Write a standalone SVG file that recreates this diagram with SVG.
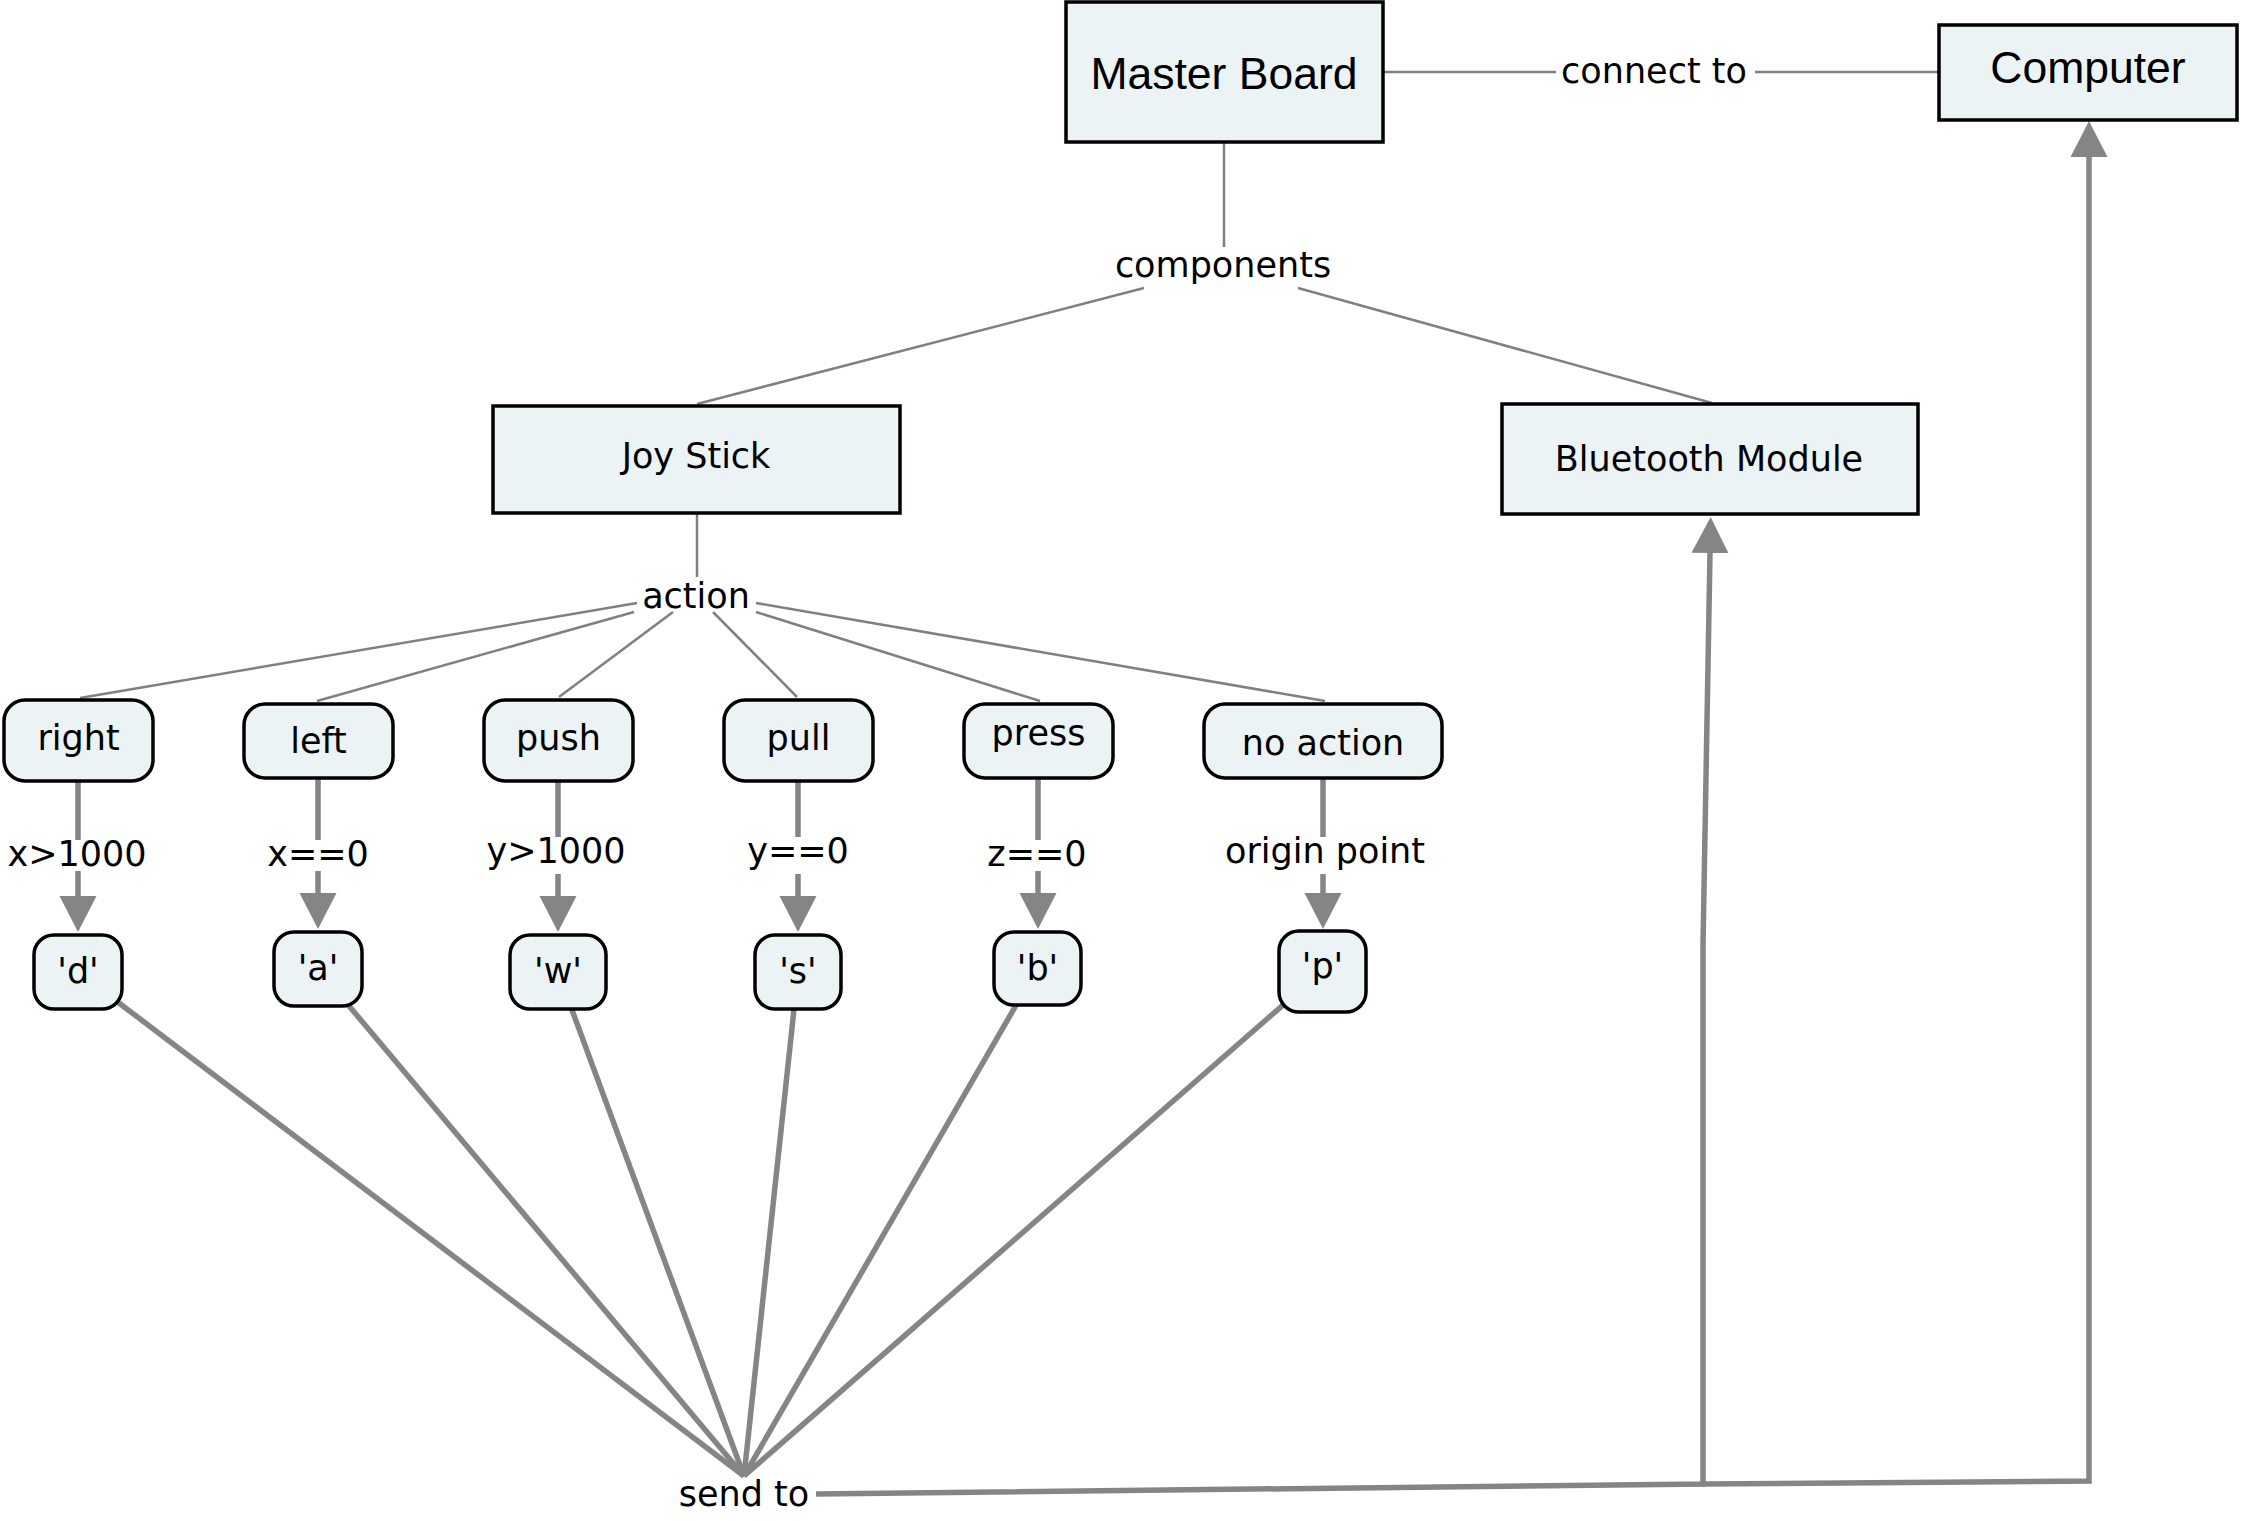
<svg xmlns="http://www.w3.org/2000/svg" width="2244" height="1521" viewBox="0 0 2244 1521">
<style>
.box{fill:#EBF3F5;stroke:#000;stroke-width:3.5}
.thin{fill:none;stroke:#808080;stroke-width:2.5}
.thick{fill:none;stroke:#858585;stroke-width:5.5}
.arr{fill:none;stroke:#858585;stroke-width:5.5;marker-end:url(#ah)}
.t{font-family:"DejaVu Sans",Verdana,sans-serif;font-size:35px;fill:#000;text-anchor:middle}
.a{font-family:"Liberation Sans",Arial,sans-serif;font-size:44.5px;fill:#000;text-anchor:middle}
</style>
<defs>
<marker id="ah" viewBox="0 -19 36 38" markerWidth="36" markerHeight="38" refX="0" refY="0" markerUnits="userSpaceOnUse" orient="auto">
<path d="M0,-18.5 L36,0 L0,18.5 Z" fill="#858585"/>
</marker>
</defs>
<rect width="2244" height="1521" fill="#fff"/>
<g id="connectors">
<line class="thin" x1="1384" y1="72" x2="1556" y2="72"/>
<line class="thin" x1="1755" y1="72" x2="1938" y2="72"/>
<line class="thin" x1="1224" y1="143" x2="1224" y2="247"/>
<line class="thin" x1="1144" y1="288" x2="697" y2="404"/>
<line class="thin" x1="1298" y1="288" x2="1712" y2="403"/>
<line class="thin" x1="697" y1="514" x2="697" y2="577"/>
<line class="thin" x1="637" y1="603" x2="80" y2="698"/>
<line class="thin" x1="634" y1="612" x2="317" y2="701"/>
<line class="thin" x1="673" y1="612" x2="559" y2="697"/>
<line class="thin" x1="713" y1="612" x2="797" y2="697"/>
<line class="thin" x1="756" y1="612" x2="1040" y2="701"/>
<line class="thin" x1="756" y1="603" x2="1325" y2="701"/>
<line class="thick" x1="78" y1="782" x2="78" y2="840"/>
<line class="arr" x1="78" y1="871" x2="78" y2="896"/>
<line class="thick" x1="318" y1="779" x2="318" y2="840"/>
<line class="arr" x1="318" y1="871" x2="318" y2="893"/>
<line class="thick" x1="558" y1="782" x2="558" y2="837"/>
<line class="arr" x1="558" y1="874" x2="558" y2="896"/>
<line class="thick" x1="798" y1="782" x2="798" y2="837"/>
<line class="arr" x1="798" y1="874" x2="798" y2="896"/>
<line class="thick" x1="1038" y1="779" x2="1038" y2="840"/>
<line class="arr" x1="1038" y1="871" x2="1038" y2="893"/>
<line class="thick" x1="1323" y1="779" x2="1323" y2="837"/>
<line class="arr" x1="1323" y1="874" x2="1323" y2="893"/>
<line class="thick" x1="78" y1="972" x2="744" y2="1476"/>
<line class="thick" x1="318" y1="969" x2="744" y2="1476"/>
<line class="thick" x1="558" y1="972" x2="744" y2="1476"/>
<line class="thick" x1="798" y1="972" x2="744" y2="1476"/>
<line class="thick" x1="1037" y1="969" x2="744" y2="1476"/>
<line class="thick" x1="1322" y1="971" x2="744" y2="1476"/>
<path class="arr" d="M816,1494 L1703,1484 L1703,945 L1710,553"/>
<path class="arr" d="M1703,1484 L2089,1481 L2089,157"/>
</g>
<g id="labels">
<text class="t" x="1654" y="83">connect to</text>
<text class="t" x="1223" y="277">components</text>
<text class="t" x="696" y="608">action</text>
<text class="t" x="77" y="866">x&gt;1000</text>
<text class="t" x="318" y="866">x==0</text>
<text class="t" x="556" y="863">y&gt;1000</text>
<text class="t" x="798" y="863">y==0</text>
<text class="t" x="1037" y="866">z==0</text>
<text class="t" x="1325" y="863">origin point</text>
<text class="t" x="744" y="1506">send to</text>
</g>
<g id="master-board"><rect class="box" x="1066" y="2" width="317" height="140"/><text class="a" x="1224" y="89">Master Board</text></g>
<g id="computer"><rect class="box" x="1939" y="25" width="298" height="95"/><text class="a" x="2088" y="83">Computer</text></g>
<g id="joy-stick"><rect class="box" x="493" y="406" width="407" height="107"/><text class="t" x="696" y="468">Joy Stick</text></g>
<g id="bluetooth-module"><rect class="box" x="1502" y="404" width="416" height="110"/><text class="t" x="1709" y="471">Bluetooth Module</text></g>
<g id="right"><rect class="box" x="4" y="700" width="149" height="81" rx="21"/><text class="t" x="78.5" y="750">right</text></g>
<g id="left"><rect class="box" x="244" y="704" width="149" height="74" rx="21"/><text class="t" x="318.5" y="753">left</text></g>
<g id="push"><rect class="box" x="484" y="700" width="149" height="81" rx="21"/><text class="t" x="558.5" y="750">push</text></g>
<g id="pull"><rect class="box" x="724" y="700" width="149" height="81" rx="21"/><text class="t" x="798.5" y="750">pull</text></g>
<g id="press"><rect class="box" x="964" y="704" width="149" height="74" rx="21"/><text class="t" x="1038.5" y="745">press</text></g>
<g id="no-action"><rect class="box" x="1204" y="704" width="238" height="74" rx="21"/><text class="t" x="1323" y="755">no action</text></g>
<g id="d"><rect class="box" x="34" y="935" width="88" height="74" rx="20"/><text class="t" x="78" y="983">'d'</text></g>
<g id="a"><rect class="box" x="274" y="932" width="88" height="74" rx="20"/><text class="t" x="318" y="980">'a'</text></g>
<g id="w"><rect class="box" x="510" y="935" width="96" height="74" rx="20"/><text class="t" x="558" y="983">'w'</text></g>
<g id="s"><rect class="box" x="755" y="935" width="86" height="74" rx="20"/><text class="t" x="798" y="983">'s'</text></g>
<g id="b"><rect class="box" x="994" y="932" width="87" height="73" rx="20"/><text class="t" x="1037.5" y="980">'b'</text></g>
<g id="p"><rect class="box" x="1279" y="931" width="87" height="81" rx="20"/><text class="t" x="1322.5" y="978">'p'</text></g>
</svg>
